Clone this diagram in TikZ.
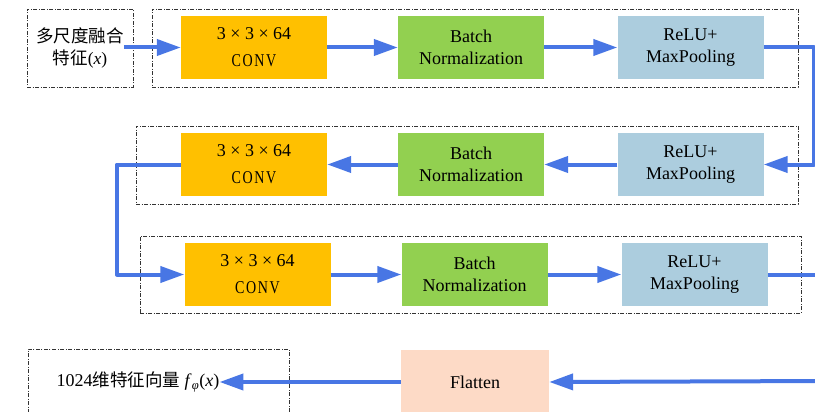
\documentclass[tikz,border=0pt]{standalone}
\usepackage{fontspec}
\setmainfont{Liberation Serif}
\newfontfamily\cjk{Noto Sans CJK SC}
\newfontfamily\convfont[FakeStretch=0.78, LetterSpace=9]{Liberation Serif}
\usetikzlibrary{arrows.meta}

\definecolor{convorange}{RGB}{255,192,0}
\definecolor{bngreen}{RGB}{146,208,80}
\definecolor{poolblue}{RGB}{172,205,222}
\definecolor{flatpeach}{RGB}{253,218,198}
\definecolor{flowblue}{RGB}{72,118,228}

\begin{document}
\begin{tikzpicture}[x=1pt, y=-1pt,
  every node/.style={font=\rmfamily\fontsize{18}{21.6}\selectfont},
  block/.style={minimum width=146pt, minimum height=63pt, align=center, inner sep=0pt},
  conv/.style={block, fill=convorange, font=\rmfamily\fontsize{18}{27}\selectfont},
  bn/.style={block, fill=bngreen},
  pool/.style={block, fill=poolblue},
  frame/.style={draw=black!80, line width=0.8pt,
    dash pattern=on 4pt off 1.5pt on 1pt off 1.5pt},
  line/.style={draw=flowblue, line width=4pt, line join=round},
  flow/.style={line, -{Triangle[length=24pt, width=16pt]}}]
  \useasboundingbox (0,0) rectangle (815,412);
  \clip (0,0) rectangle (815,412);

  % dashed groups
  \node[frame, minimum width=106pt, minimum height=78pt] (inbox) at (80,48) {};
  \node[frame, minimum width=646pt, minimum height=78pt] (row1) at (475,48) {};
  \node[frame, minimum width=662pt, minimum height=78pt] (row2) at (467,165) {};
  \node[frame, minimum width=661pt, minimum height=77pt] (row3) at (470.5,274.5) {};
  \node[frame, minimum width=261pt, minimum height=66pt] (outbox) at (158.5,382) {};

  % input and output
  \node[align=center, inner sep=0pt, font=\cjk\fontsize{17.5}{22}\selectfont]
    (intext) at (inbox) {多尺度融合\\特征{\rmfamily(\textit{x})}};
  \node[inner sep=0pt] (outtext) at (138,382)
    {1024{\cjk\fontsize{17.5}{21}\selectfont 维特征向量}
     \textit{f}\textsubscript{\textit{φ}}(\textit{x})};

  % row 1
  \node[conv] (conv1) at (254,47.5) {3 × 3 × 64\\{\convfont CONV}};
  \node[bn] (bn1) at (471,47.5) {Batch\\Normalization};
  \node[pool] (pool1) at (690.5,47.5) {ReLU+\\MaxPooling};

  % row 2
  \node[conv] (conv2) at (254,164.5) {3 × 3 × 64\\{\convfont CONV}};
  \node[bn] (bn2) at (471,164.5) {Batch\\Normalization};
  \node[pool] (pool2) at (690.5,164.5) {ReLU+\\MaxPooling};

  % row 3
  \node[conv] (conv3) at (257.5,274.5) {3 × 3 × 64\\{\convfont CONV}};
  \node[bn] (bn3) at (474.5,274.5) {Batch\\Normalization};
  \node[pool] (pool3) at (694.5,274.5) {ReLU+\\MaxPooling};

  \node[block, fill=flatpeach, minimum width=148pt, minimum height=64pt]
    (flat) at (475,382) {Flatten};

  \coordinate (exit3) at (830,274.5);
  \coordinate (entry4) at (830,381);

  % connectors
  \draw[flow] (intext.east |- conv1.west) -- (conv1.west);
  \draw[flow] (conv1) -- (bn1);
  \draw[flow] (bn1) -- (pool1);
  \draw[flow] (pool1.east) -- ++(50.5,0) |- (pool2.east);
  \draw[flow] (pool2) -- (bn2);
  \draw[flow] (bn2) -- (conv2);
  \draw[flow] (conv2.west) -- ++(-64,0) |- (conv3.west);
  \draw[flow] (conv3) -- (bn3);
  \draw[flow] (bn3) -- (pool3);
  \draw[line] (pool3.east) -- (exit3);
  \draw[flow] (entry4) -- (flat.east);
  \draw[flow] (flat.west) -- (outtext.east);
\end{tikzpicture}
\end{document}
